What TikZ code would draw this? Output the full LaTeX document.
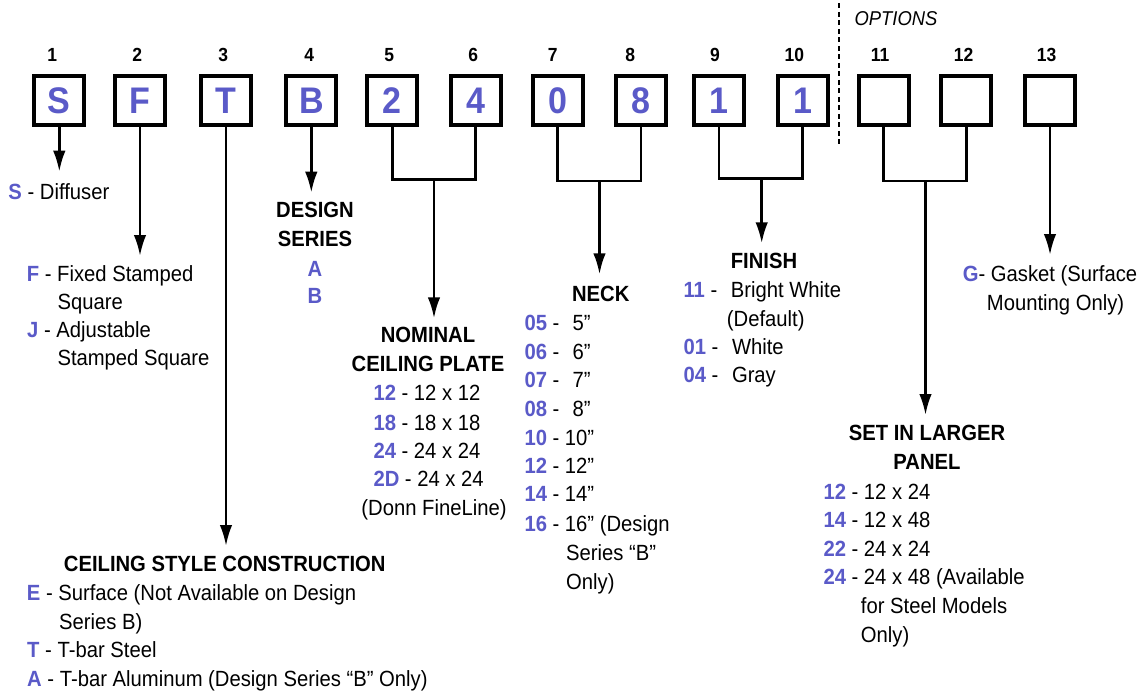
\documentclass[tikz,border=0pt]{standalone}
\usepackage{fontspec}
\setmainfont{Liberation Sans}[FakeStretch=0.92]
\usetikzlibrary{arrows.meta}
\definecolor{codeblue}{RGB}{90,90,200}
\newcommand\bl[1]{\textcolor{codeblue}{\textbf{#1}}}
\begin{document}
\begin{tikzpicture}[x=1pt,y=-1pt,
  codebox/.style={draw, line width=4pt, minimum width=50pt, minimum height=48.5pt, inner sep=0pt,
    font=\fontsize{37}{40}\selectfont\bfseries, text=codeblue},
  num/.style={inner sep=0pt, font=\fontsize{19}{22}\selectfont\bfseries},
  txt/.style={anchor=base west, inner sep=0pt, font=\fontsize{22}{26}\selectfont},
  hd/.style={anchor=base, inner sep=0pt, font=\fontsize{22}{26}\selectfont\bfseries},
  conn/.style={line width=2.6pt, line join=miter},
  arr/.style={conn, -{Latex[length=21pt,width=12.5pt]}}]
\fill[white] (0,0) rectangle (1144,696);
\useasboundingbox (0,0) rectangle (1144,696);

% boxes
\node[codebox] (b1) at (59.3,100.7) {S};
\node[codebox] (b2) at (140,100.7) {F};
\node[codebox] (b3) at (226,100.7) {T};
\node[codebox] (b4) at (311.3,100.7) {B};
\node[codebox] (b5) at (392.3,100.7) {2};
\node[codebox] (b6) at (475.5,100.7) {4};
\node[codebox] (b7) at (557.5,100.7) {0};
\node[codebox] (b8) at (641,100.7) {8};
\node[codebox] (b9) at (719,100.7) {1};
\node[codebox] (b10) at (802.5,100.7) {1};
\node[codebox] (b11) at (883.7,100.7) {};
\node[codebox] (b12) at (966.3,100.7) {};
\node[codebox] (b13) at (1050,100.7) {};

% position numbers
\node[num] (n1) at (52.3,55) {1};
\node[num] (n2) at (137.3,55) {2};
\node[num] (n3) at (223.3,55) {3};
\node[num] (n4) at (309.3,55) {4};
\node[num] (n5) at (389.3,55) {5};
\node[num] (n6) at (473.3,55) {6};
\node[num] (n7) at (552.7,55) {7};
\node[num] (n8) at (630.3,55) {8};
\node[num] (n9) at (715,55) {9};
\node[num] (n10) at (794.3,55) {10};
\node[num] (n11) at (880,55) {11};
\node[num] (n12) at (963.7,55) {12};
\node[num] (n13) at (1046.7,55) {13};

% options separator
\coordinate (dtop) at (839,3.3);
\coordinate (dbot) at (839,144);
\draw[line width=2.2pt, dash pattern=on 5pt off 3.5pt] (dtop) -- (dbot);
\node[inner sep=0pt, font=\fontsize{20}{24}\selectfont\itshape] (opt) at (896,19) {OPTIONS};

% arrow tips and junctions
\coordinate (t1) at (b1.south |- 0,171.7);
\coordinate (t2) at (b2.south |- 0,256);
\coordinate (t3) at (b3.south |- 0,546);
\coordinate (t4) at (b4.south |- 0,192.7);
\coordinate (j56) at (434,179.3);
\coordinate (t56) at (434,318.3);
\coordinate (j78) at (599.5,181);
\coordinate (t78) at (599.5,274.3);
\coordinate (j910) at (761.7,178.3);
\coordinate (t910) at (761.7,243.3);
\coordinate (j1112) at (925.5,181);
\coordinate (t1112) at (925.5,415);
\coordinate (t13) at (b13.south |- 0,255);

\draw[arr] (b1.south) -- (t1);
\draw[arr] (b2.south) -- (t2);
\draw[arr] (b3.south) -- (t3);
\draw[arr] (b4.south) -- (t4);
\draw[conn] (b5.south) |- (j56) -| (b6.south);
\draw[arr] (j56) -- (t56);
\draw[conn] (b7.south) |- (j78) -| (b8.south);
\draw[arr] (j78) -- (t78);
\draw[conn] (b9.south) |- (j910) -| (b10.south);
\draw[arr] (j910) -- (t910);
\draw[conn] (b11.south) |- (j1112) -| (b12.south);
\draw[arr] (j1112) -- (t1112);
\draw[arr] (b13.south) -- (t13);

% 1: style
\node[txt] (s1) at (8.3,199) {\bl{S} - Diffuser};
% 2: type
\node[txt] (f1) at (26.7,281) {\bl{F} - Fixed Stamped};
\node[txt] (f2) at (57.3,309.3) {Square};
\node[txt] (f3) at (27,337.7) {\bl{J} - Adjustable};
\node[txt] (f4) at (57.3,365.7) {Stamped Square};
% 4: design series
\node[hd] (d1) at (315,217.3) {DESIGN};
\node[hd] (d2) at (315,246.7) {SERIES};
\node[hd, text=codeblue] (d3) at (315,276.7) {A};
\node[hd, text=codeblue] (d4) at (315,303.3) {B};
% 5-6: nominal ceiling plate
\node[hd] (p1) at (428,342.7) {NOMINAL};
\node[hd] (p2) at (428,371) {CEILING PLATE};
\node[txt] (p3) at (373.3,400.7) {\bl{12} - 12 x 12};
\node[txt] (p4) at (373.3,430) {\bl{18} - 18 x 18};
\node[txt] (p5) at (373.3,458.3) {\bl{24} - 24 x 24};
\node[txt] (p6) at (373.3,486.7) {\bl{2D} - 24 x 24};
\node[anchor=base, inner sep=0pt, font=\fontsize{22}{26}\selectfont] (p7) at (434,515) {(Donn FineLine)};
% 7-8: neck
\node[hd] (k0) at (600.7,301.7) {NECK};
\node[txt] (k1) at (524.3,330) {\bl{05} -\hspace{7.6pt} 5”};
\node[txt] (k2) at (524.3,359) {\bl{06} -\hspace{7.6pt} 6”};
\node[txt] (k3) at (524.3,387.7) {\bl{07} -\hspace{7.6pt} 7”};
\node[txt] (k4) at (524.3,416) {\bl{08} -\hspace{7.6pt} 8”};
\node[txt] (k5) at (524.3,445) {\bl{10} - 10”};
\node[txt] (k6) at (524.3,473.3) {\bl{12} - 12”};
\node[txt] (k7) at (524.3,501.7) {\bl{14} - 14”};
\node[txt] (k8) at (524.3,531.7) {\bl{16} - 16” (Design};
\node[txt] (k9) at (566,560) {Series “B”};
\node[txt] (k10) at (566,589) {Only)};
% 9-10: finish
\node[hd] (h0) at (764,268.3) {FINISH};
\node[txt] (h1) at (683.3,297.3) {\bl{11} -\hspace{8pt} Bright White};
\node[txt] (h2) at (726.7,326.7) {(Default)};
\node[txt] (h3) at (683.3,354) {\bl{01} -\hspace{8pt} White};
\node[txt] (h4) at (683.3,382.5) {\bl{04} -\hspace{8pt} Gray};
% 11-12: set in larger panel
\node[hd] (l0) at (927,440.7) {SET IN LARGER};
\node[hd] (l1) at (927,469.3) {PANEL};
\node[txt] (l2) at (823.3,499) {\bl{12} - 12 x 24};
\node[txt] (l3) at (823.3,527.3) {\bl{14} - 12 x 48};
\node[txt] (l4) at (823.3,556) {\bl{22} - 24 x 24};
\node[txt] (l5) at (823.3,584.3) {\bl{24} - 24 x 48 (Available};
\node[txt] (l6) at (860.7,613.3) {for Steel Models};
\node[txt] (l7) at (860.7,642.3) {Only)};
% 13: gasket
\node[txt] (g1) at (962.7,281.7) {\bl{G}- Gasket (Surface};
\node[txt] (g2) at (986.7,310) {Mounting Only)};
% 3: ceiling style construction
\node[hd] (c0) at (224.7,571.7) {CEILING STYLE CONSTRUCTION};
\node[txt] (c1) at (26.7,600.7) {\bl{E} - Surface (Not Available on Design};
\node[txt] (c2) at (59,629.3) {Series B)};
\node[txt] (c3) at (27,657.7) {\bl{T} - T-bar Steel};
\node[txt] (c4) at (27,686) {\bl{A} - T-bar Aluminum (Design Series “B” Only)};
\end{tikzpicture}
\end{document}
